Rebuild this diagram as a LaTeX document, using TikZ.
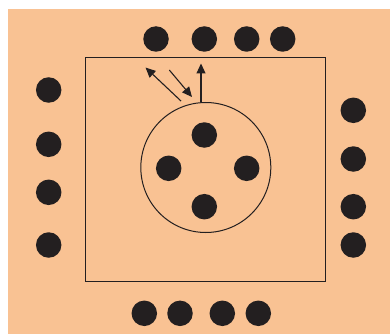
\documentclass[tikz,border=0pt]{standalone}
\usetikzlibrary{arrows.meta}
\definecolor{bg}{HTML}{F9C293}
\definecolor{ink}{HTML}{231F20}
\begin{document}
\begin{tikzpicture}[x=1pt,y=-1pt,
  dot/.style={circle,fill=ink,inner sep=0pt,minimum size=25.5pt},
  thin line/.style={draw=ink,line width=1pt},
  arr/.style={draw=ink,line width=1.1pt,-{Triangle[length=10pt,width=9pt]}}]
\useasboundingbox (0,0) rectangle (390,334);
\fill[white] (0,0) rectangle (390,334);
\fill[bg] (8,9) rectangle (390,334);
\node[thin line,rectangle,minimum width=240pt,minimum height=224pt,inner sep=0pt] (box) at (205.3,169.2) {};
\node[thin line,circle,minimum size=130pt,inner sep=0pt] (cell) at (205.8,167.5) {};
% top dots
\node[dot] (t1) at (156,39) {};
\node[dot] (t2) at (204.3,39) {};
\node[dot] (t3) at (246.7,39) {};
\node[dot] (t4) at (282.7,39) {};
% left dots
\node[dot] (l1) at (48.7,90) {};
\node[dot] (l2) at (48.7,144.3) {};
\node[dot] (l3) at (48.7,192.3) {};
\node[dot] (l4) at (48.7,245) {};
% right dots
\node[dot] (r1) at (353.3,110.3) {};
\node[dot] (r2) at (353.3,159) {};
\node[dot] (r3) at (353.3,206.7) {};
\node[dot] (r4) at (353.3,245) {};
% bottom dots
\node[dot] (b1) at (144.3,313.3) {};
\node[dot] (b2) at (180,313.3) {};
\node[dot] (b3) at (222.3,313.3) {};
\node[dot] (b4) at (258.3,313.3) {};
% inner dots
\node[dot] (i1) at (204.3,135) {};
\node[dot] (i2) at (168.7,168.3) {};
\node[dot] (i3) at (246.7,168.3) {};
\node[dot] (i4) at (204.3,206.7) {};
% arrows
\coordinate (a1s) at (181,101);
\coordinate (a1e) at (145.5,67.5);
\coordinate (a2s) at (169.3,70);
\coordinate (a2e) at (192,97);
\coordinate (a3s) at (201,101.5);
\coordinate (a3e) at (201,63.5);
\draw[arr] (a1s) -- (a1e);
\draw[arr] (a2s) -- (a2e);
\draw[arr] (a3s) -- (a3e);
\end{tikzpicture}
\end{document}
